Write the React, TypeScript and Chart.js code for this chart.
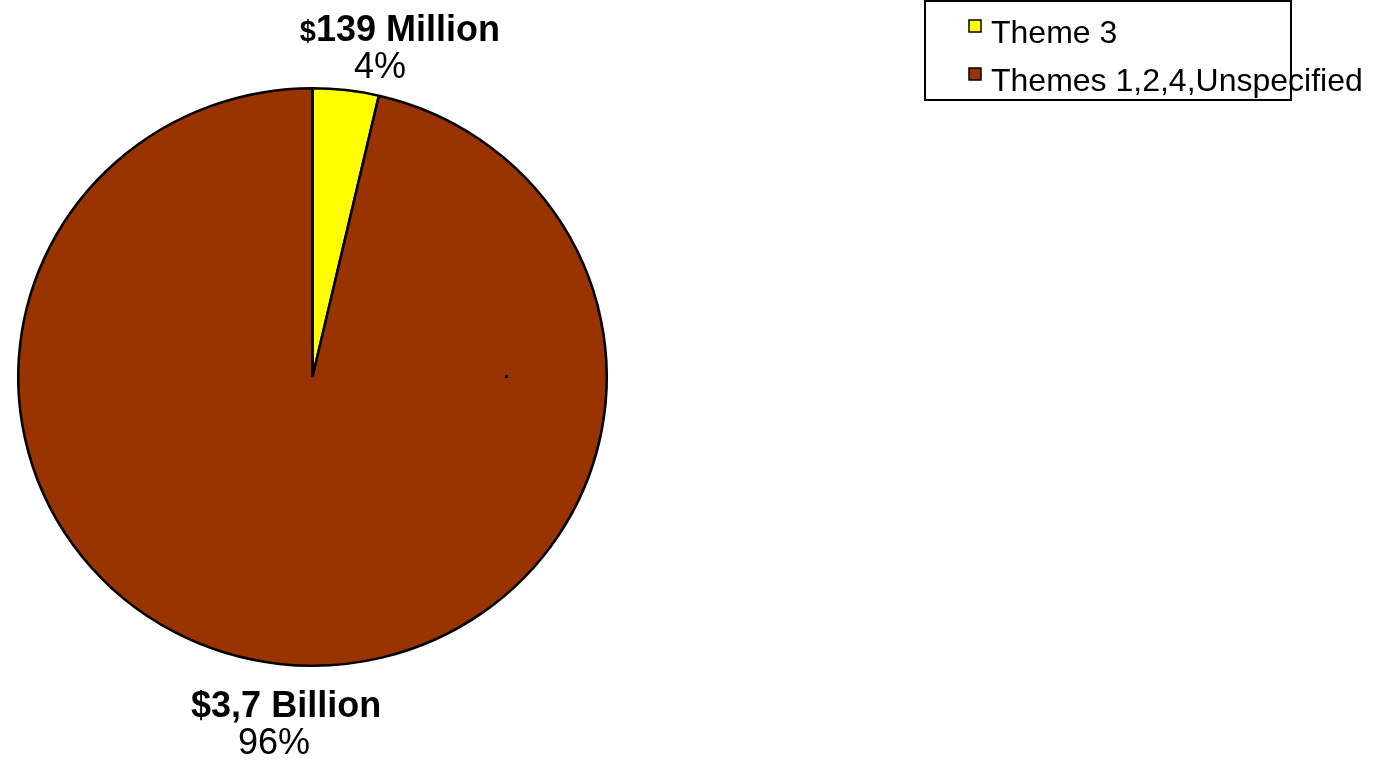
import React, { useEffect, useRef } from "react";
import { Chart, registerables } from "chart.js";

Chart.register(...registerables);

const categories = ["Theme 3", "Themes 1,2,4,Unspecified"];
const amounts = [139, 3700]; // $ millions
const amountLabels = ["139 Million", "3,7 Billion"];
const percentLabels = ["4%", "96%"];
const colors = ["#FFFF00", "#993300"];

const FONT = "'Liberation Sans', Arial, sans-serif";
const STRETCH_X = 1.019;

export default function App() {
  const ref = useRef<HTMLCanvasElement | null>(null);

  useEffect(() => {
    document.body.style.margin = "0";
    const canvas = ref.current!;
    const labelPlugin = {
      id: "pieLabels",
      beforeDatasetsDraw(chart: any) {
        const ctx = chart.ctx as CanvasRenderingContext2D;
        const arc = chart.getDatasetMeta(0).data[0] as any;
        ctx.save();
        if (arc) {
          ctx.translate(arc.x, arc.y);
          ctx.scale(STRETCH_X, 1);
          ctx.translate(-arc.x, -arc.y);
        }
      },
      afterDatasetsDraw(chart: any) {
        const ctx = chart.ctx as CanvasRenderingContext2D;
        ctx.restore();
        const meta = chart.getDatasetMeta(0);
        const arcs = meta.data;
        if (!arcs.length) return;
        const a0 = arcs[0] as any;
        const cx = a0.x, cy = a0.y, r = a0.outerRadius;
        const offsets = [
          { dx: 54, dy: -49, pdx: -20 },
          { dx: 7, dy: 53, pdx: -12 },
        ];
        arcs.forEach((arc: any, i: number) => {
          const mid = (arc.startAngle + arc.endAngle) / 2;
          const px = cx + Math.cos(mid) * r * STRETCH_X + offsets[i].dx;
          const py = cy + Math.sin(mid) * r + offsets[i].dy;
          ctx.save();
          ctx.fillStyle = "#000";
          ctx.textBaseline = "alphabetic";
          const dollarFont = i === 0 ? `bold 29px ${FONT}` : `bold 36px ${FONT}`;
          const mainFont = `bold 36px ${FONT}`;
          ctx.font = dollarFont;
          const wd = ctx.measureText("$").width;
          ctx.font = mainFont;
          const wm = ctx.measureText(amountLabels[i]).width;
          const x0 = px - (wd + wm) / 2;
          ctx.textAlign = "left";
          ctx.font = dollarFont;
          ctx.fillText("$", x0, py);
          ctx.font = mainFont;
          ctx.fillText(amountLabels[i], x0 + wd, py);
          ctx.font = `36px ${FONT}`;
          ctx.textAlign = "center";
          ctx.fillText(percentLabels[i], px + offsets[i].pdx, py + 37);
          ctx.restore();
        });
        // small leader-dot artifact
        ctx.save();
        ctx.fillStyle = "#000";
        ctx.fillRect(cx + r * 0.67 - 1, cy - 2, 3, 3);
        ctx.restore();

        // legend
        ctx.save();
        ctx.strokeStyle = "#000";
        ctx.lineWidth = 2;
        ctx.strokeRect(925, 1, 366, 99);
        ctx.font = `32px ${FONT}`;
        ctx.textAlign = "left";
        ctx.textBaseline = "alphabetic";
        categories.forEach((c, i) => {
          const y = 43 + i * 48;
          ctx.fillStyle = colors[i];
          ctx.fillRect(969, y - 23, 12, 12);
          ctx.lineWidth = 1.5;
          ctx.strokeStyle = "#000";
          ctx.strokeRect(969, y - 23, 12, 12);
          ctx.fillStyle = "#000";
          ctx.fillText(c, 991, y);
        });
        ctx.restore();
      },
    };

    const chart = new Chart(canvas, {
      type: "pie",
      data: {
        labels: categories,
        datasets: [
          {
            data: amounts,
            backgroundColor: colors,
            borderColor: "#000",
            borderWidth: 2.5,
          },
        ],
      },
      options: {
        responsive: false,
        animation: false,
        devicePixelRatio: 1,
        layout: { padding: { left: 22, right: 770, top: 87, bottom: 93 } },
        plugins: {
          legend: { display: false },
          tooltip: { enabled: false },
        },
      },
      plugins: [labelPlugin],
    });
    return () => chart.destroy();
  }, []);

  return (
    <div style={{ position: "fixed", left: 0, top: 0, width: 1373, height: 760, background: "#fff" }}>
      <canvas ref={ref} width={1373} height={760} style={{ width: 1373, height: 760 }} />
    </div>
  );
}
